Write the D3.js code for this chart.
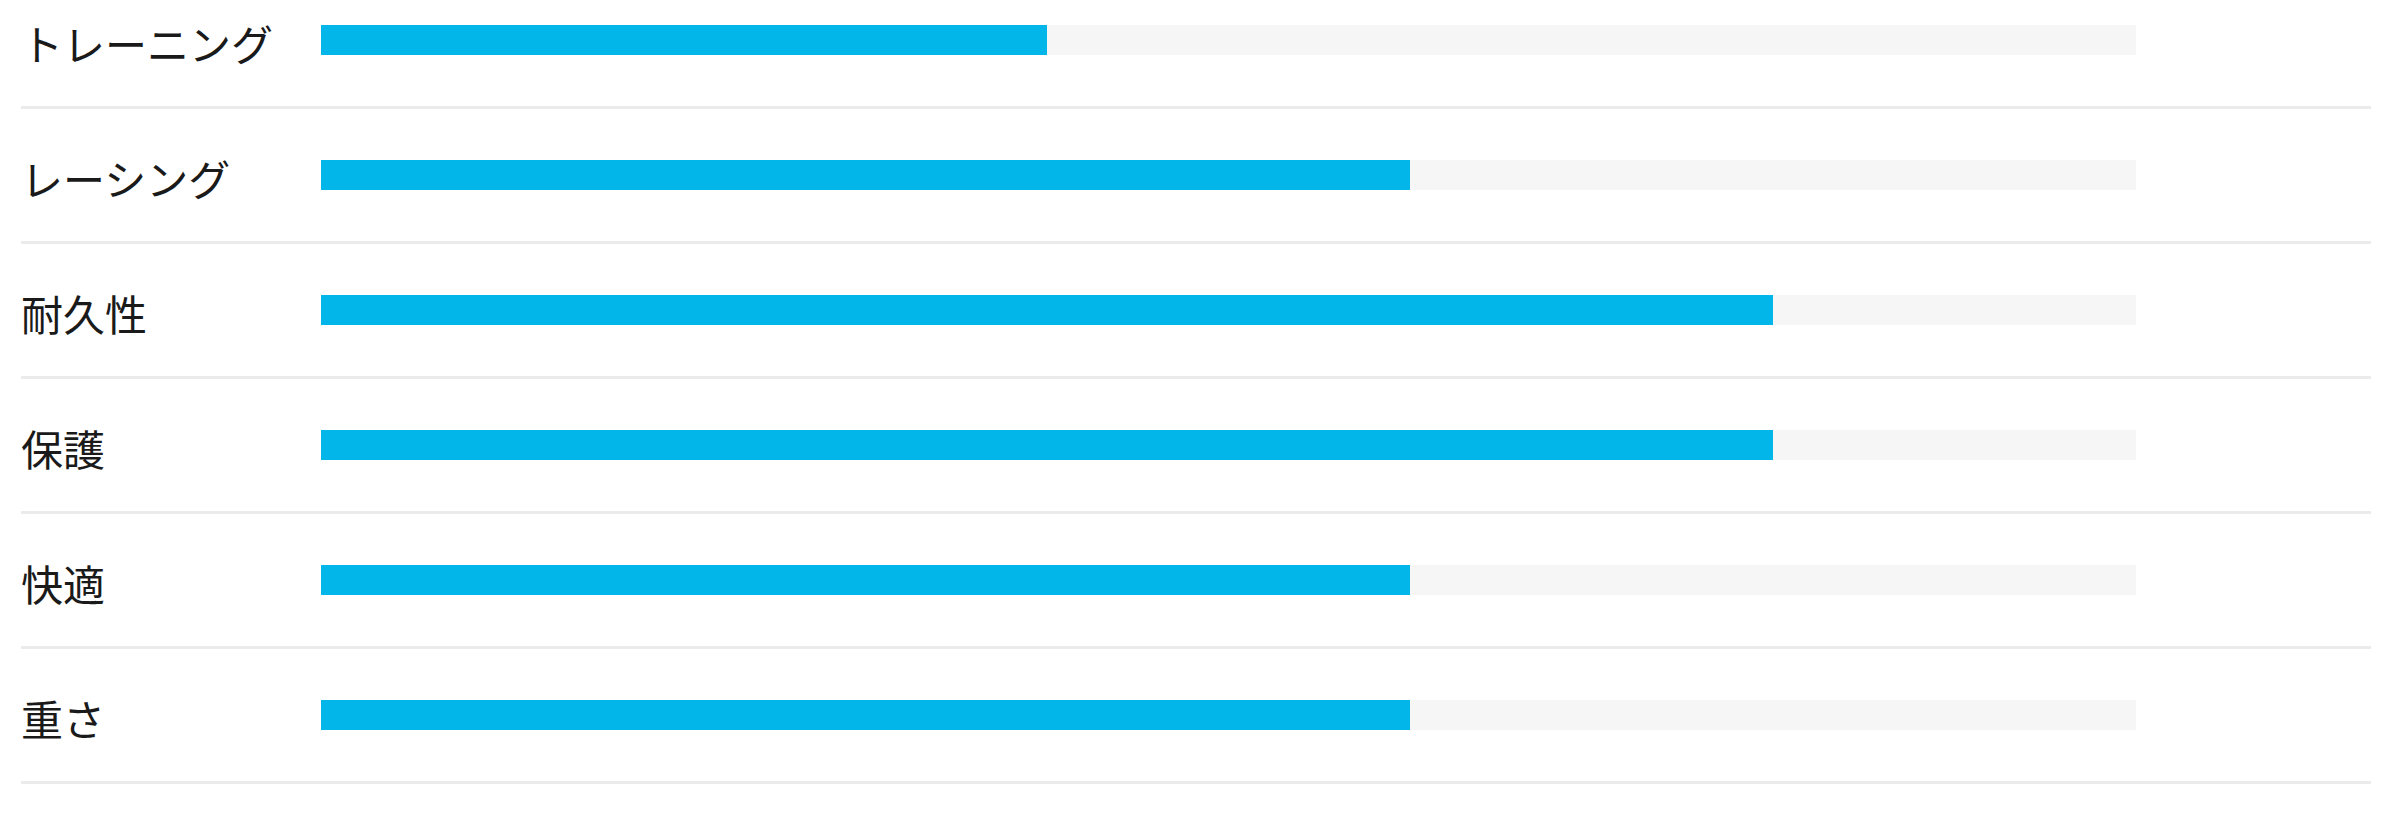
<!DOCTYPE html>
<html>
<head>
<meta charset="utf-8">
<script src="https://cdn.jsdelivr.net/npm/d3@7"></script>
<style>
html,body{margin:0;padding:0;background:#fff;}
svg{display:block;}
</style>
</head>
<body>
<svg id="chart" width="2392" height="821"></svg>
<script>
const categories = ["トレーニング", "レーシング", "耐久性", "保護", "快適", "重さ"];
const values = [40, 60, 80, 80, 60, 60];
const maxValue = 100;

const svg = d3.select("#chart");
const rowH = 135;
const topY = 0;

const y = d3.scaleBand()
  .domain(categories)
  .range([topY, topY + rowH * categories.length])
  .paddingInner(0).paddingOuter(0);

const x = d3.scaleLinear().domain([0, maxValue]).range([321, 2136]);

const rows = svg.selectAll("g.row")
  .data(categories.map((c, i) => ({c, v: values[i]})))
  .join("g")
  .attr("class", "row")
  .attr("transform", d => `translate(0,${y(d.c)})`);

rows.append("rect")
  .attr("x", x(0))
  .attr("y", 25)
  .attr("width", x(maxValue) - x(0))
  .attr("height", 30)
  .attr("fill", "#f6f6f6");

rows.append("rect")
  .attr("x", x(0))
  .attr("y", 25)
  .attr("width", d => x(d.v) - x(0))
  .attr("height", 30)
  .attr("fill", "#02b6ea");

rows.append("text")
  .attr("x", 21)
  .attr("y", 42)
  .attr("dominant-baseline", "central")
  .attr("font-family", "'Noto Sans CJK JP', sans-serif")
  .attr("font-size", 42)
  .attr("fill", "#1a1a1a")
  .text(d => d.c);

rows.append("rect")
  .attr("x", 21)
  .attr("y", 106)
  .attr("width", 2371 - 21)
  .attr("height", 3)
  .attr("fill", "#ebebeb");
</script>
</body>
</html>
